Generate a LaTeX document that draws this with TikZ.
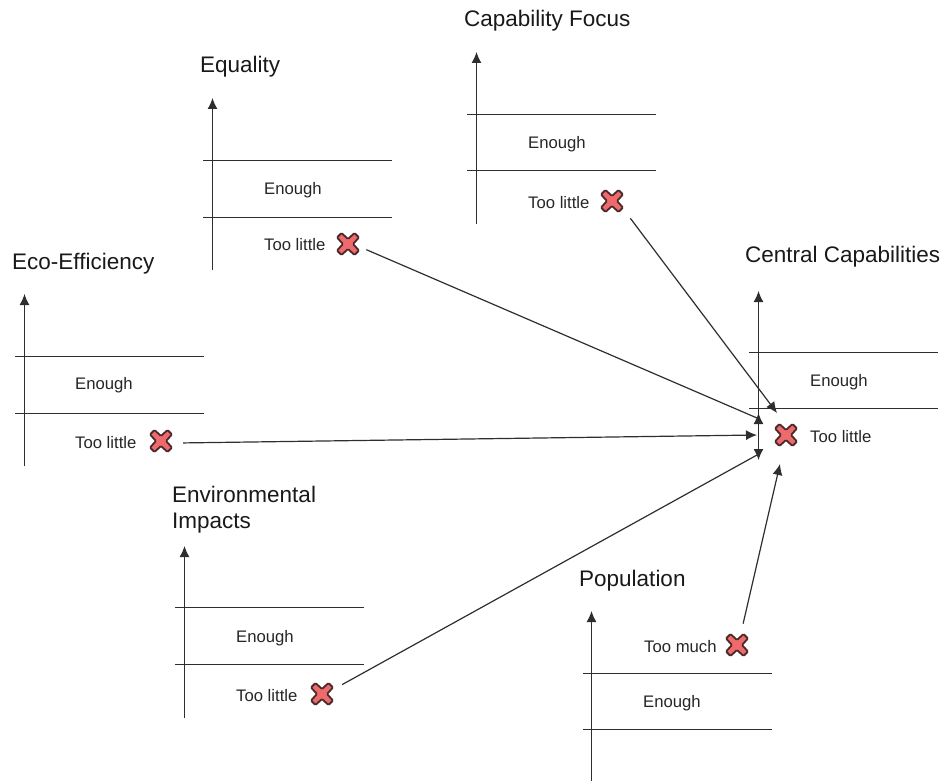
\documentclass[tikz,border=0pt]{standalone}
\usepackage{fontspec}
\setmainfont{Liberation Sans}
\usetikzlibrary{arrows.meta}
\definecolor{inkgrey}{HTML}{2E2E2E}
\definecolor{xred}{HTML}{EE6A6C}
\definecolor{xedge}{HTML}{4A2A2A}
\tikzset{
    axisline/.style={inkgrey,line width=1.2pt},
    title/.style={anchor=west,inner sep=0pt,text=black!90,font=\fontsize{22.5}{26}\selectfont,align=left},
    level/.style={anchor=west,inner sep=0pt,text=black!85,font=\fontsize{16.7}{20}\selectfont},
    xspot/.style={circle,minimum size=44pt,inner sep=0pt},
    redx/.pic={\draw[xedge,fill=xred,line width=1.8pt,rounded corners=1pt]
        (-6.5,-11)--(0,-5)--(6.5,-11)--(11,-6.5)--(5,0)--(11,6.5)--(6.5,11)--(0,5)--(-6.5,11)--(-11,6.5)--(-5,0)--(-11,-6.5)--cycle;}
}
\begin{document}
\begin{tikzpicture}[x=1pt,y=-1pt,>={Latex[length=11pt,width=10pt]}]
\useasboundingbox (0,0) rectangle (943,781);
% equality
\draw[->,axisline] (212.5,270)--(212.5,98);
\draw[axisline] (203,160.5)--(392,160.5);
\draw[axisline] (203,217.5)--(392,217.5);
\node[title] (tEq) at (200,67) {Equality};
\node[level] (eEq) at (264,190) {Enough};
\node[level] (lEq) at (264,245) {Too little};
\node[xspot] (xEq) at (348,244) {};
\pic at (xEq) {redx};
% capability focus
\draw[->,axisline] (476.5,224)--(476.5,52);
\draw[axisline] (467,114.5)--(656,114.5);
\draw[axisline] (467,170.5)--(656,170.5);
\node[title] (tCap) at (464,21) {Capability Focus};
\node[level] (eCap) at (528,144) {Enough};
\node[level] (lCap) at (528,203) {Too little};
\node[xspot] (xCap) at (612,201) {};
\pic at (xCap) {redx};
% eco-efficiency
\draw[->,axisline] (24.5,466)--(24.5,294);
\draw[axisline] (15,356.5)--(204,356.5);
\draw[axisline] (15,413.5)--(204,413.5);
\node[title] (tEco) at (12,264) {Eco-Efficiency};
\node[level] (eEco) at (75,385) {Enough};
\node[level] (lEco) at (75,443) {Too little};
\node[xspot] (xEco) at (161,441) {};
\pic at (xEco) {redx};
% environmental impacts
\draw[->,axisline] (184.5,718)--(184.5,546);
\draw[axisline] (175,607.5)--(364,607.5);
\draw[axisline] (175,664.5)--(364,664.5);
\node[title] (tEnv) at (172,510) {Environmental\\Impacts};
\node[level] (eEnv) at (236,638) {Enough};
\node[level] (lEnv) at (236,696) {Too little};
\node[xspot] (xEnv) at (322,694) {};
\pic at (xEnv) {redx};
% population
\draw[->,axisline] (591.5,781)--(591.5,611);
\draw[axisline] (583,673.5)--(772,673.5);
\draw[axisline] (583,729.5)--(772,729.5);
\node[title] (tPop) at (579,581) {Population};
\node[level] (mPop) at (644,647) {Too much};
\node[level] (ePop) at (643,703) {Enough};
\node[xspot] (xPop) at (737,645) {};
\pic at (xPop) {redx};
% central capabilities
\draw[->,axisline] (758.5,414)--(758.5,291);
\draw[<->,axisline] (758.5,413)--(758.5,460);
\draw[axisline] (749,352.5)--(938,352.5);
\draw[axisline] (749,408.5)--(938,408.5);
\node[title] (tCen) at (745,257) {Central Capabilities};
\node[level] (eCen) at (810,382) {Enough};
\node[level] (lCen) at (810,437) {Too little};
\node[xspot] (xCen) at (786,435) {};
\pic at (xCen) {redx};
% where the connectors end
\coordinate (inEq) at (757,418);
\coordinate (inCap) at (777,413);
\coordinate (inEco) at (757,435);
\coordinate (inEnv) at (757,455);
\coordinate (inPop) at (780,464);
\draw[axisline,shorten <=-3pt] (xEq.-18)--(inEq);
\draw[->,axisline,shorten <=3pt] (xCap.-42)--(inCap);
\draw[->,axisline] (xEco.-5)--(inEco);
\draw[axisline] (xEnv.25)--(inEnv);
\draw[->,axisline] (xPop.74)--(inPop);
\end{tikzpicture}
\end{document}
